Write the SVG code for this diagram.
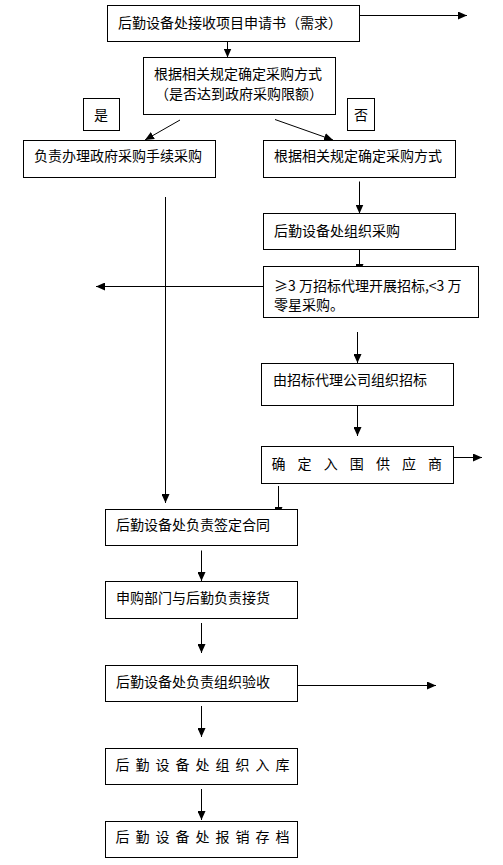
<svg xmlns="http://www.w3.org/2000/svg" width="503" height="865" viewBox="0 0 503 865">
<style>
.box{fill:#fff;stroke:#000;stroke-width:1}
.t{font-family:"Noto Sans CJK SC","Liberation Sans",sans-serif;font-size:14px;fill:#000}
.c{stroke:#000;stroke-width:1;fill:none}
</style>
<defs>
<marker id="ah" markerUnits="userSpaceOnUse" markerWidth="9" markerHeight="8" refX="9" refY="4" orient="auto">
<path d="M0,0 L9,4 L0,8 z" fill="#000"/>
</marker>
</defs>
<rect width="503" height="865" fill="#fff"/>
<g id="connectors">
<line class="c" x1="359.5" y1="15.5" x2="467" y2="15.5" marker-end="url(#ah)"/>
<line class="c" x1="227.5" y1="41.5" x2="227.5" y2="57.5" marker-end="url(#ah)"/>
<line class="c" x1="180" y1="120" x2="145" y2="140" marker-end="url(#ah)"/>
<line class="c" x1="275" y1="119.5" x2="333" y2="140" marker-end="url(#ah)"/>
<line class="c" x1="359.5" y1="181.5" x2="359.5" y2="213.5" marker-end="url(#ah)"/>
<line class="c" x1="165.5" y1="197" x2="165.5" y2="503" marker-end="url(#ah)"/>
<line class="c" x1="359.5" y1="249.5" x2="359.5" y2="273" marker-end="url(#ah)"/>
<line class="c" x1="263.5" y1="286.5" x2="96" y2="286.5" marker-end="url(#ah)"/>
<line class="c" x1="357.5" y1="332" x2="357.5" y2="363" marker-end="url(#ah)"/>
<line class="c" x1="357.5" y1="405" x2="357.5" y2="436" marker-end="url(#ah)"/>
<line class="c" x1="453.5" y1="457.5" x2="482" y2="457.5" marker-end="url(#ah)"/>
<line class="c" x1="278.5" y1="486" x2="278.5" y2="516" marker-end="url(#ah)"/>
<line class="c" x1="201.5" y1="550.5" x2="201.5" y2="581" marker-end="url(#ah)"/>
<line class="c" x1="201.5" y1="623" x2="201.5" y2="653" marker-end="url(#ah)"/>
<line class="c" x1="297.5" y1="685.5" x2="436" y2="685.5" marker-end="url(#ah)"/>
<line class="c" x1="201.5" y1="706" x2="201.5" y2="737" marker-end="url(#ah)"/>
<line class="c" x1="201.5" y1="789" x2="201.5" y2="820" marker-end="url(#ah)"/>
</g>
<g id="n1"><rect class="box" x="107.5" y="5.5" width="252" height="36"/><text class="t" x="118" y="28">后勤设备处接收项目申请书（需求）</text></g>
<g id="n2"><rect class="box" x="143.5" y="57.5" width="192" height="57"/><text class="t" x="154" y="79">根据相关规定确定采购方式</text><text class="t" x="155" y="99">（是否达到政府采购限额）</text></g>
<g id="yes"><rect class="box" x="83.5" y="98.5" width="36" height="32"/><text class="t" x="101" y="120" text-anchor="middle">是</text></g>
<g id="no"><rect class="box" x="347.5" y="98.5" width="27" height="32"/><text class="t" x="361" y="120" text-anchor="middle">否</text></g>
<g id="n3"><rect class="box" x="23.5" y="140.5" width="192" height="37"/><text class="t" x="34" y="161">负责办理政府采购手续采购</text></g>
<g id="n4"><rect class="box" x="263.5" y="140.5" width="192" height="37"/><text class="t" x="274" y="161">根据相关规定确定采购方式</text></g>
<g id="n5"><rect class="box" x="263.5" y="213.5" width="192" height="36"/><text class="t" x="274" y="236">后勤设备处组织采购</text></g>
<g id="n6"><rect class="box" x="263.5" y="266.5" width="215" height="51"/><text class="t" x="274" y="291">≥3 万招标代理开展招标,&lt;3 万</text><text class="t" x="274" y="310">零星采购。</text></g>
<g id="n7"><rect class="box" x="261.5" y="363.5" width="192" height="42"/><text class="t" x="273" y="385">由招标代理公司组织招标</text></g>
<g id="n8"><rect class="box" x="261.5" y="446.5" width="192" height="37"/><text class="t" x="271.5" y="469" letter-spacing="12.1">确定入围供应商</text></g>
<g id="n9"><rect class="box" x="105.5" y="509.5" width="192" height="36"/><text class="t" x="116" y="530">后勤设备处负责签定合同</text></g>
<g id="n10"><rect class="box" x="105.5" y="581.5" width="192" height="37"/><text class="t" x="116" y="603">申购部门与后勤负责接货</text></g>
<g id="n11"><rect class="box" x="105.5" y="665.5" width="192" height="36"/><text class="t" x="116" y="687">后勤设备处负责组织验收</text></g>
<g id="n12"><rect class="box" x="105.5" y="748.5" width="192" height="36"/><text class="t" x="115.5" y="770" letter-spacing="6">后勤设备处组织入库</text></g>
<g id="n13"><rect class="box" x="105.5" y="821.5" width="192" height="36"/><text class="t" x="115.5" y="842" letter-spacing="6">后勤设备处报销存档</text></g>
</svg>
